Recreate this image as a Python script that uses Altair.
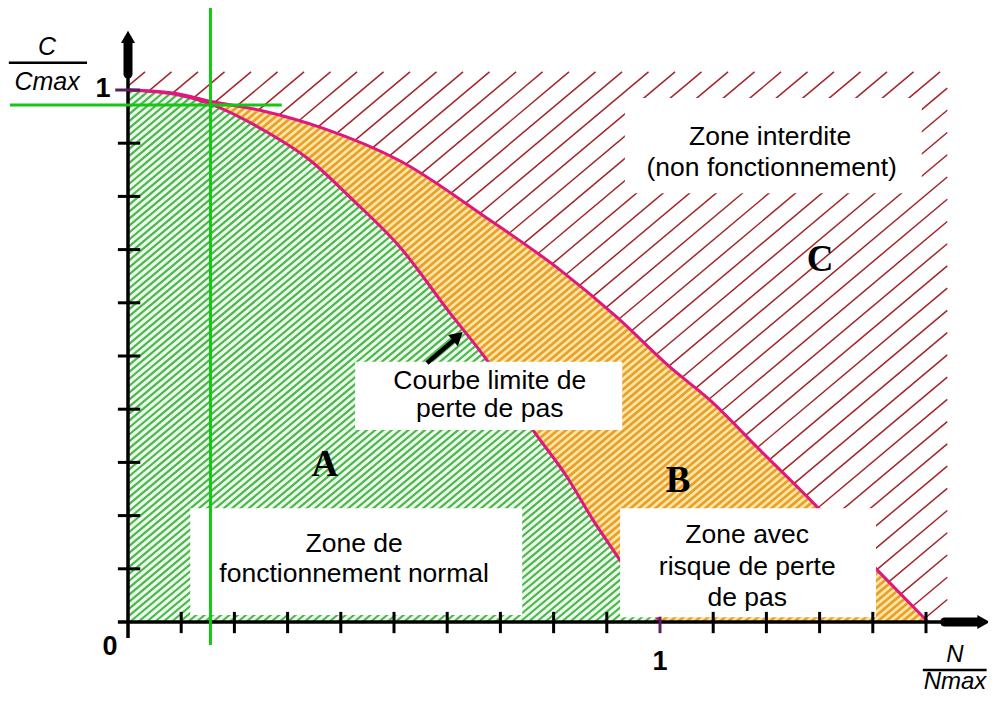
import numpy as np
import pandas as pd
import altair as alt

# ---------------- data (N/Nmax , C/Cmax) ----------------
outer_n = [0.000, 0.088, 0.154, 0.248, 0.370, 0.511, 0.675, 0.812, 0.919, 1.019, 1.094, 1.188, 1.288, 1.408, 1.504]
outer_c = [1.000, 0.994, 0.979, 0.962, 0.927, 0.867, 0.759, 0.662, 0.573, 0.479, 0.417, 0.323, 0.224, 0.098, 0.000]
inner_n = [0.000, 0.088, 0.154, 0.261, 0.342, 0.423, 0.511, 0.605, 0.675, 0.761, 0.825, 0.874, 0.921, 1.000]
inner_c = [1.000, 0.992, 0.974, 0.921, 0.868, 0.793, 0.705, 0.581, 0.492, 0.361, 0.273, 0.192, 0.122, 0.000]

zone_n_max = 1.54      # right edge of the hatched diagram
zone_c_max = 1.034     # top edge of the hatched diagram
op_n, op_c = 0.155, 0.972   # green operating-point cross
x_ticks = [0.1, 0.2, 0.3, 0.4, 0.5, 0.6, 0.7, 0.8, 0.9, 1.1, 1.2, 1.3, 1.4, 1.5]
y_ticks = [0.1, 0.2, 0.3, 0.4, 0.5, 0.6, 0.7, 0.8, 0.9]
end_ticks_x = [1.0]

# ---------------- canvas / scales ----------------
W, H = 980, 686
PX = 532.0
X0 = -120 / PX
X1 = X0 + W / PX
Y1 = 614 / PX
Y0 = Y1 - H / PX
xsc = alt.Scale(domain=[X0, X1], nice=False, zero=False)
ysc = alt.Scale(domain=[Y0, Y1], nice=False, zero=False)


def enc_pt(df_x="x", df_y="y"):
    return dict(x=alt.X(df_x, type="quantitative", scale=xsc, axis=None),
                y=alt.Y(df_y, type="quantitative", scale=ysc, axis=None))


def enc_seg():
    return dict(x=alt.X("x:Q", scale=xsc, axis=None), y=alt.Y("y:Q", scale=ysc, axis=None),
                x2=alt.X2("x2:Q"), y2=alt.Y2("y2:Q"))


# ------- same monotone cubic as the renderer's "monotone" curve (for clipping the hatching) -------
def monotone(xs, ys):
    xs = np.asarray(xs, float)
    ys = np.asarray(ys, float)
    n = len(xs)
    h = np.diff(xs)
    s = np.diff(ys) / h
    m = np.zeros(n)
    sg = lambda v: -1.0 if v < 0 else 1.0
    for i in range(1, n - 1):
        p = (s[i - 1] * h[i] + s[i] * h[i - 1]) / (h[i - 1] + h[i])
        m[i] = (sg(s[i - 1]) + sg(s[i])) * min(abs(s[i - 1]), abs(s[i]), 0.5 * abs(p))
    m[0] = (3 * s[0] - m[1]) / 2
    m[-1] = (3 * s[-1] - m[-2]) / 2

    def f(xq):
        xq = np.atleast_1d(np.asarray(xq, float))
        out = np.zeros_like(xq)
        inside = (xq >= xs[0]) & (xq <= xs[-1])
        k = np.clip(np.searchsorted(xs, xq[inside], side="right") - 1, 0, n - 2)
        u = (xq[inside] - xs[k]) / h[k]
        h00 = 2 * u ** 3 - 3 * u ** 2 + 1
        h10 = u ** 3 - 2 * u ** 2 + u
        h01 = -2 * u ** 3 + 3 * u ** 2
        h11 = u ** 3 - u ** 2
        out[inside] = h00 * ys[k] + h10 * h[k] * m[k] + h01 * ys[k + 1] + h11 * h[k] * m[k + 1]
        return out
    return f


f_in = monotone(inner_n, inner_c)
f_out = monotone(outer_n, outer_c)

# ---------------- hatching (texture) derived from the curves ----------------
GRID = np.linspace(0.0, 1.7, 6801)
FIN = f_in(GRID)
FOUT = f_out(GRID)


def crossing(fg, t, c):
    g = fg - (t * GRID + c)
    idx = np.nonzero(g <= 0)[0]
    if len(idx) == 0:
        return None
    i = idx[0]
    if i == 0:
        return GRID[0], t * GRID[0] + c
    x = GRID[i - 1] + (GRID[i] - GRID[i - 1]) * g[i - 1] / (g[i - 1] - g[i])
    return x, t * x + c


t = np.tan(np.radians(40))
dc_ab = t * 8.3 / PX
dc_c = t * 26.5 / PX
seg_a, seg_b, seg_c = [], [], []
for c in np.arange(-1.6, 1.0, dc_ab):
    sx, sy = (0.0, c) if c >= 0 else (-c / t, 0.0)
    fin = float(f_in(sx)[0])
    fout = float(f_out(sx)[0])
    if sy < fin:
        e = crossing(FIN, t, c)
        seg_a.append((sx, sy, e[0], e[1]))
        bx, by = e
    elif sy < fout:
        bx, by = sx, sy
    else:
        continue
    e = crossing(FOUT, t, c)
    if e is not None and e[0] > bx:
        seg_b.append((bx, by, e[0], e[1]))

c_phase = zone_c_max - t * 0.9286
k0 = int(np.floor((c_phase + t * zone_n_max) / dc_c))
for c in c_phase - dc_c * k0 + dc_c * np.arange(0, 200):
    if c >= zone_c_max:
        break
    sx, sy = (0.0, c) if c >= 0 else (-c / t, 0.0)
    if sx >= zone_n_max:
        continue
    if sy < float(f_out(sx)[0]):
        sx, sy = crossing(FOUT, t, c)
    xt = (zone_c_max - c) / t
    if xt <= zone_n_max:
        ex, ey = xt, zone_c_max
    else:
        ex, ey = zone_n_max, t * zone_n_max + c
    if ex > sx:
        seg_c.append((sx, sy, ex, ey))

cols = ["x", "y", "x2", "y2"]
df_a = pd.DataFrame(seg_a, columns=cols)
df_b = pd.DataFrame(seg_b, columns=cols)
df_c = pd.DataFrame(seg_c, columns=cols)

df_outer = pd.DataFrame({"x": outer_n, "y": outer_c, "i": range(len(outer_n))})
df_inner = pd.DataFrame({"x": inner_n, "y": inner_c, "i": range(len(inner_n))})

layers = []
layers.append(alt.Chart(df_c).mark_rule(color="#a3262a", strokeWidth=1.5).encode(**enc_seg()))
layers.append(alt.Chart(df_outer).mark_area(color="#fde7a6", opacity=1, interpolate="monotone").encode(
    **enc_pt(), y2=alt.datum(0)))
layers.append(alt.Chart(df_inner).mark_area(color="#eef9ee", opacity=1, interpolate="monotone").encode(
    **enc_pt(), y2=alt.datum(0)))
layers.append(alt.Chart(df_b).mark_rule(color="#e99f2c", strokeWidth=2.7).encode(**enc_seg()))
layers.append(alt.Chart(df_a).mark_rule(color="#4cb84c", strokeWidth=2.2).encode(**enc_seg()))
for d in (df_outer, df_inner):
    layers.append(alt.Chart(d).mark_line(color="#e0177f", strokeWidth=3, interpolate="monotone").encode(
        **enc_pt(), order=alt.Order("i:Q")))

# white label boxes
boxes = pd.DataFrame({
    "x": [0.934, 0.427, 0.117, 0.925],
    "x2": [1.492, 0.929, 0.741, 1.406],
    "y": [0.806, 0.361, 0.013, 0.009],
    "y2": [0.985, 0.489, 0.214, 0.214],
})
layers.append(alt.Chart(boxes).mark_rect(color="white", opacity=1).encode(**enc_seg()))

texts = pd.DataFrame({
    "x": [1.207, 1.210, 0.680, 0.680, 0.425, 0.425, 1.164, 1.164, 1.164],
    "y": [0.912, 0.853, 0.453, 0.400, 0.147, 0.090, 0.164, 0.103, 0.045],
    "t": ["Zone interdite", "(non fonctionnement)", "Courbe limite de", "perte de pas",
          "Zone de", "fonctionnement normal", "Zone avec", "risque de perte", "de pas"],
})
layers.append(alt.Chart(texts).mark_text(font="Liberation Sans", fontSize=26.5, color="black",
                                         align="center", baseline="middle").encode(
    **enc_pt(), text="t:N"))

zones = pd.DataFrame({"x": [0.370, 1.034, 1.301], "y": [0.295, 0.265, 0.680], "t": ["A", "B", "C"]})
layers.append(alt.Chart(zones).mark_text(font="Liberation Serif", fontWeight="bold", fontSize=37,
                                         color="black", align="center", baseline="middle").encode(
    **enc_pt(), text="t:N"))

# pointer arrow
shaft = pd.DataFrame({"x": [0.562], "y": [0.487], "x2": [0.615], "y2": [0.532]})
layers.append(alt.Chart(shaft).mark_rule(color="black", strokeWidth=4.5).encode(**enc_seg()))
head = pd.DataFrame({"x": [0.620], "y": [0.537]})
layers.append(alt.Chart(head).mark_point(shape="triangle-up", filled=True, color="black", size=220,
                                         opacity=1, angle=49).encode(**enc_pt()))

# axes
axes = pd.DataFrame({"x": [0.0, -0.019], "x2": [0.0, 1.57], "y": [-0.030, 0.0], "y2": [1.06, 0.0]})
layers.append(alt.Chart(axes).mark_rule(color="black", strokeWidth=3.5).encode(**enc_seg()))
shafts = pd.DataFrame({"x": [0.0, 1.535], "x2": [0.0, 1.595], "y": [1.03, 0.0], "y2": [1.088, 0.0]})
layers.append(alt.Chart(shafts).mark_rule(color="black", strokeWidth=9, strokeCap="round").encode(**enc_seg()))
arr_up = pd.DataFrame({"x": [0.0], "y": [1.100]})
layers.append(alt.Chart(arr_up).mark_point(shape="triangle-up", filled=True, color="black", size=200,
                                           opacity=1).encode(**enc_pt()))
arr_rt = pd.DataFrame({"x": [1.608], "y": [0.0]})
layers.append(alt.Chart(arr_rt).mark_point(shape="triangle-right", filled=True, color="black", size=200,
                                           opacity=1).encode(**enc_pt()))

xt_df = pd.DataFrame({"x": x_ticks, "x2": x_ticks, "y": [-0.021] * len(x_ticks), "y2": [0.019] * len(x_ticks)})
yt_df = pd.DataFrame({"x": [-0.019] * len(y_ticks), "x2": [0.023] * len(y_ticks), "y": y_ticks, "y2": y_ticks})
layers.append(alt.Chart(xt_df).mark_rule(color="black", strokeWidth=3).encode(**enc_seg()))
layers.append(alt.Chart(yt_df).mark_rule(color="black", strokeWidth=3).encode(**enc_seg()))
et_df = pd.DataFrame({"x": end_ticks_x + [-0.024], "x2": end_ticks_x + [0.023],
                      "y": [-0.021, 1.0], "y2": [0.010, 1.0]})
layers.append(alt.Chart(et_df).mark_rule(color="#5b1f5f", strokeWidth=3).encode(**enc_seg()))

# green operating-point cross
cross = pd.DataFrame({"x": [op_n, -0.222], "x2": [op_n, 0.289], "y": [-0.043, op_c], "y2": [Y1, op_c]})
layers.append(alt.Chart(cross).mark_rule(color="#12c812", strokeWidth=3).encode(**enc_seg()))

# axis labels
nums = pd.DataFrame({"x": [-0.034, -0.047, 1.0], "y": [-0.047, 1.002, -0.075], "t": ["0", "1", "1"]})
layers.append(alt.Chart(nums).mark_text(font="Liberation Sans", fontWeight="bold", fontSize=27, color="black",
                                        align="center", baseline="middle").encode(**enc_pt(), text="t:N"))
titles_c = pd.DataFrame({"x": [-0.152, -0.152], "y": [1.081, 1.015], "t": ["C", "Cmax"]})
layers.append(alt.Chart(titles_c).mark_text(font="Liberation Sans", fontStyle="italic", fontSize=25, color="black",
                                            align="center", baseline="middle").encode(**enc_pt(), text="t:N"))
titles_n = pd.DataFrame({"x": [1.5545, 1.5545], "y": [-0.0620, -0.1130], "t": ["N", "Nmax"]})
layers.append(alt.Chart(titles_n).mark_text(font="Liberation Sans", fontStyle="italic", fontSize=24, color="black",
                                            align="center", baseline="middle").encode(**enc_pt(), text="t:N"))
bars = pd.DataFrame({"x": [-0.224, 1.494], "x2": [-0.077, 1.614], "y": [1.051, -0.0900], "y2": [1.051, -0.0900]})
layers.append(alt.Chart(bars).mark_rule(color="black", strokeWidth=2.5).encode(**enc_seg()))

chart = alt.layer(*layers).properties(
    width=W, height=H, padding=0, autosize=alt.AutoSizeParams(type="none")
).configure_view(stroke=None)

chart.save("out.html", embed_options={"renderer": "svg", "actions": False})
